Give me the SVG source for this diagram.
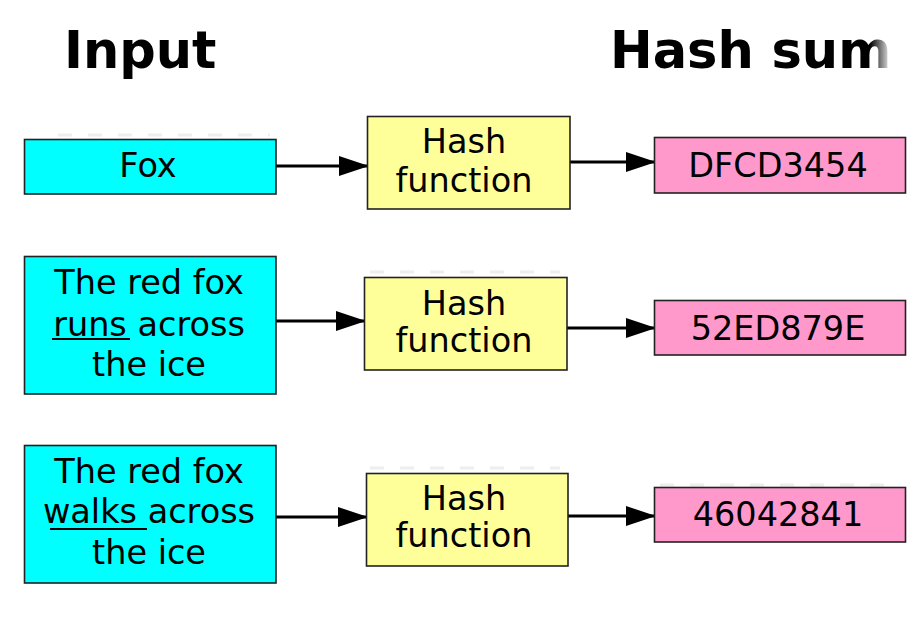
<svg xmlns="http://www.w3.org/2000/svg" width="920" height="623" viewBox="0 0 920 623">
<style>
  .title { font-family: "DejaVu Sans", "Liberation Sans", sans-serif; font-weight: bold; font-size: 51px; fill: #000; }
  .lbl { font-family: "DejaVu Sans", "Liberation Sans", sans-serif; font-size: 33.5px; fill: #000; text-anchor: middle; }
  .in { fill: #00ffff; stroke: #222; stroke-width: 1.6; }
  .hf { fill: #ffff99; stroke: #222; stroke-width: 1.6; }
  .out { fill: #ff99cc; stroke: #222; stroke-width: 1.6; }
  .conn { stroke: #000; stroke-width: 3; fill: none; marker-end: url(#ah); }
  .ul { stroke: #000; stroke-width: 2; }
  .ghost { stroke: #eeeeee; stroke-width: 3; stroke-dasharray: 14 16; fill: none; }
</style>
<defs>
  <marker id="ah" markerWidth="30" markerHeight="20" refX="28" refY="10" orient="auto" markerUnits="userSpaceOnUse">
    <path d="M0,0 L30,10 L0,20 Z" fill="#000"/>
  </marker>
  <linearGradient id="fade" gradientUnits="userSpaceOnUse" x1="870" y1="0" x2="892" y2="0">
    <stop offset="0" stop-color="#000"/>
    <stop offset="1" stop-color="#fff"/>
  </linearGradient>
</defs>
<rect width="920" height="623" fill="#fff"/>

<g id="ghosts">
  <line class="ghost" x1="58" y1="135" x2="270" y2="135"/>
  <line class="ghost" x1="370" y1="272" x2="560" y2="272"/>
  <line class="ghost" x1="370" y1="468" x2="560" y2="468"/>
  <line class="ghost" x1="660" y1="485" x2="900" y2="485"/>
</g>

<g id="titles">
  <text class="title" x="64" y="68">Input</text>
  <text class="title" x="610" y="68" style="fill:url(#fade)">Hash sum</text>
</g>

<g id="connectors">
  <line class="conn" x1="276" y1="166" x2="367" y2="166"/>
  <line class="conn" x1="570" y1="162" x2="654" y2="162"/>
  <line class="conn" x1="276" y1="321" x2="364" y2="321"/>
  <line class="conn" x1="567" y1="328" x2="654" y2="328"/>
  <line class="conn" x1="276" y1="517" x2="366" y2="517"/>
  <line class="conn" x1="568" y1="516" x2="654" y2="516"/>
</g>

<g id="input1">
  <rect class="in" x="24.5" y="139.5" width="251.5" height="54.5"/>
  <text class="lbl" x="148" y="177">Fox</text>
</g>
<g id="input2">
  <rect class="in" x="24.5" y="256.5" width="251.5" height="137.5"/>
  <text class="lbl" x="149" y="294">The red fox</text>
  <text class="lbl" x="149" y="336">runs across</text>
  <text class="lbl" x="149" y="376">the ice</text>
  <line class="ul" x1="52" y1="339" x2="130" y2="339"/>
</g>
<g id="input3">
  <rect class="in" x="24.5" y="445.5" width="251.5" height="137.5"/>
  <text class="lbl" x="149" y="483">The red fox</text>
  <text class="lbl" x="149" y="523">walks across</text>
  <text class="lbl" x="149" y="564">the ice</text>
  <line class="ul" x1="50" y1="529" x2="147" y2="529"/>
</g>

<g id="hash1">
  <rect class="hf" x="367.5" y="116.5" width="202.5" height="92.5"/>
  <text class="lbl" x="464" y="153">Hash</text>
  <text class="lbl" x="464" y="192">function</text>
</g>
<g id="hash2">
  <rect class="hf" x="364.5" y="277.5" width="202.5" height="92.5"/>
  <text class="lbl" x="464" y="315">Hash</text>
  <text class="lbl" x="464" y="352">function</text>
</g>
<g id="hash3">
  <rect class="hf" x="366.5" y="473.5" width="201.5" height="92.5"/>
  <text class="lbl" x="464" y="510">Hash</text>
  <text class="lbl" x="464" y="547">function</text>
</g>

<g id="out1">
  <rect class="out" x="654.5" y="137.5" width="251" height="55.5"/>
  <text class="lbl" x="778" y="177">DFCD3454</text>
</g>
<g id="out2">
  <rect class="out" x="654.5" y="300.5" width="251" height="54.5"/>
  <text class="lbl" x="778" y="340">52ED879E</text>
</g>
<g id="out3">
  <rect class="out" x="654.5" y="487.5" width="251" height="54.5"/>
  <text class="lbl" x="778" y="526">46042841</text>
</g>
</svg>
